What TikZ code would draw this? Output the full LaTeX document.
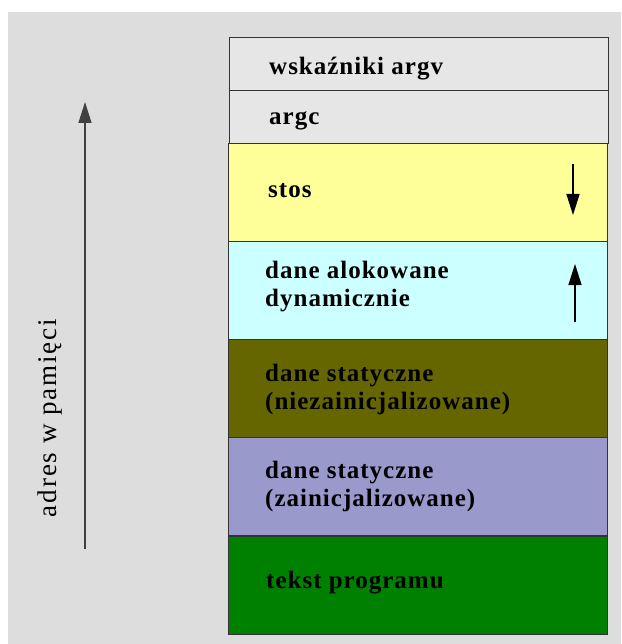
\documentclass[tikz,border=0pt]{standalone}
\usepackage{fontspec}
\setmainfont{Liberation Serif}
\usetikzlibrary{arrows.meta,calc}
\definecolor{bg}{HTML}{DDDDDD}
\definecolor{argfill}{HTML}{E6E6E6}
\definecolor{stosfill}{HTML}{FFFF99}
\definecolor{dynfill}{HTML}{CCFFFF}
\definecolor{uninitfill}{HTML}{666600}
\definecolor{initfill}{HTML}{9999CC}
\definecolor{textfill}{HTML}{008000}
\definecolor{edge}{HTML}{333333}
\tikzset{
  seg/.style={draw=edge, line width=1.2pt, rectangle, anchor=north west,
    minimum width=379pt, inner sep=0pt},
  segtext/.style={anchor=west, align=left, inner sep=0pt,
    font=\fontsize{25}{28}\selectfont\bfseries\addfontfeature{LetterSpace=4}},
  tip/.style={-{Triangle[width=13pt,length=21pt]}, line width=1.4pt},
}
\begin{document}
\begin{tikzpicture}[x=1pt,y=-1pt]
\useasboundingbox (0,0) rectangle (621,644);
\fill[bg] (8,12) rectangle (621,644);
% segments
\node[seg, fill=argfill, minimum height=53pt] (argv) at (229,37) {};
\node[seg, fill=argfill, minimum height=53pt] (argc) at (229,90) {};
\node[seg, fill=stosfill, minimum height=98pt] (stos) at (228,143) {};
\node[seg, fill=dynfill, minimum height=98pt] (dyn) at (228,241) {};
\node[seg, fill=uninitfill, minimum height=98pt] (uninit) at (228,339) {};
\node[seg, fill=initfill, minimum height=98pt] (init) at (228,437) {};
\node[seg, fill=textfill, minimum height=98pt] (prog) at (228,536) {};
% texts
\node[segtext] (targv) at (269,69) {wskaźniki argv};
\node[segtext] (targc) at (269,121) {argc};
\node[segtext] (tstos) at (268,191) {stos};
\node[segtext] (tdyn) at (265,287) {dane alokowane\\dynamicznie};
\node[segtext] (tuninit) at (265,389) {dane statyczne\\(niezainicjalizowane)};
\node[segtext] (tinit) at (265,486) {dane statyczne\\(zainicjalizowane)};
\node[segtext] (tprog) at (266,583) {tekst programu};
% small arrows
\coordinate (s1) at (573,164);
\coordinate (s2) at (573,215);
\draw[tip] (s1) -- (s2);
\coordinate (d1) at (575,322);
\coordinate (d2) at (575,264);
\draw[tip] (d1) -- (d2);
% address arrow
\coordinate (a1) at (85,549);
\coordinate (a2) at (85,102);
\draw[tip, draw=black!75, fill=black] (a1) -- (a2);
\node[rotate=90, inner sep=0pt, font=\fontsize{27}{30}\selectfont\addfontfeature{LetterSpace=7}] (addr) at (50,418) {adres w pamięci};
\end{tikzpicture}
\end{document}
